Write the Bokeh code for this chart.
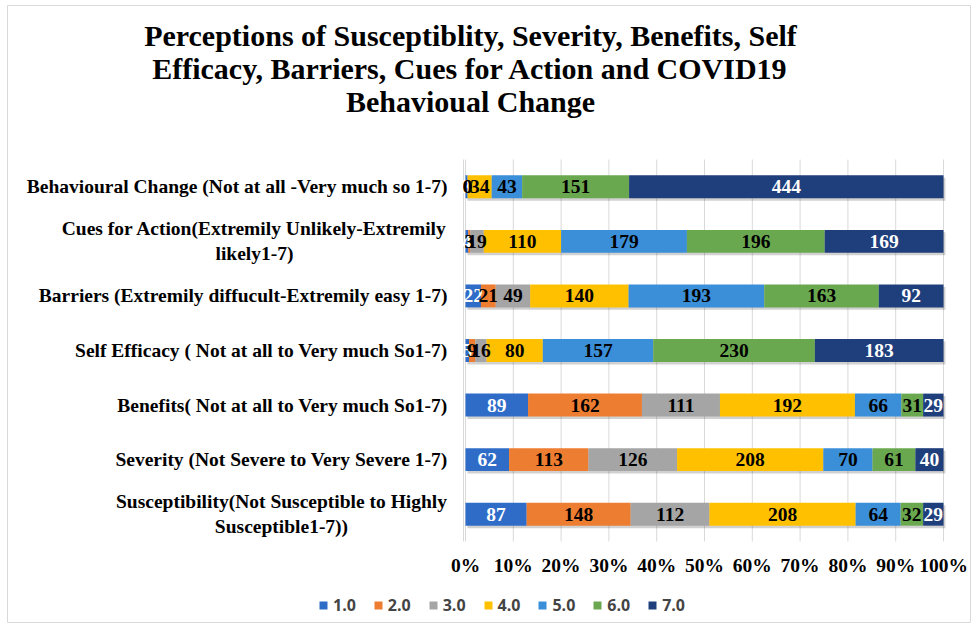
import numpy as np
from bokeh.plotting import figure
from bokeh.models import ColumnDataSource, Range1d, Legend, LegendItem
from bokeh.core.properties import value
from bokeh.embed import file_html
from bokeh.resources import INLINE

# ---------------- data ----------------
categories = [
    "Susceptibility(Not Susceptible to Highly\nSusceptible1-7))",
    "Severity (Not Severe to Very Severe 1-7)",
    "Benefits( Not at all to Very much So1-7)",
    "Self Efficacy ( Not at all to Very much So1-7)",
    "Barriers (Extremily diffucult-Extremily easy 1-7)",
    "Cues for Action(Extremily Unlikely-Extremily\nlikely1-7)",
    "Behavioural Change (Not at all -Very much so 1-7)",
]
series_names = ["1.0", "2.0", "3.0", "4.0", "5.0", "6.0", "7.0"]
s_1 = [87, 62, 89, 5, 22, 4, 3]
s_2 = [148, 113, 162, 9, 21, 3, 0]
s_3 = [112, 126, 111, 16, 49, 19, 0]
s_4 = [208, 208, 192, 80, 140, 110, 34]
s_5 = [64, 70, 66, 157, 193, 179, 43]
s_6 = [32, 61, 31, 230, 163, 196, 151]
s_7 = [29, 40, 29, 183, 92, 169, 444]
x_ticks = [0.0, 0.1, 0.2, 0.3, 0.4, 0.5, 0.6, 0.7, 0.8, 0.9, 1.0]
tick_labels = ["0%", "10%", "20%", "30%", "40%", "50%", "60%", "70%", "80%", "90%", "100%"]
title_lines = ["Perceptions of Susceptiblity, Severity, Benefits, Self",
               "Efficacy, Barriers, Cues for Action and COVID19",
               "Behavioual Change"]

# ---------------- styles / layout ----------------
colors = ["#2E6CC8", "#ED7D31", "#A5A5A5", "#FFC000", "#3B8ED8", "#6AA84F", "#1F3E7C"]
label_colors = ["white", "black", "black", "black", "black", "black", "white"]
SERIF = "Liberation Serif"
GRID = "#d9d9d9"
W, H = 976, 630
FL, FR, FT, FB = 465, 943, 159, 541          # plot area in pixels
ncat = len(categories)
xu = (FR - FL)                                # pixels per 100 %
yu = (FB - FT) / ncat                         # pixels per category


def px_x(px):
    return (px - FL) / xu


def px_y(py):
    return (FB - py) / yu


# ---------------- derived ----------------
counts = np.array([s_1, s_2, s_3, s_4, s_5, s_6, s_7], dtype=float)
totals = counts.sum(axis=0)
fracs = counts / totals
keys = ["k%d" % i for i in range(7)]
ycen = np.arange(ncat) + 0.5
src = ColumnDataSource(dict(y=ycen, **{k: fracs[i] for i, k in enumerate(keys)}))

cum = np.cumsum(fracs, axis=0)
before = cum - fracs
lx, ly, lt, lc = [], [], [], []
for j in range(7):
    for i in range(ncat):
        lx.append(before[j, i] + fracs[j, i] / 2)
        ly.append(ycen[i])
        lt.append(str(int(counts[j, i])))
        lc.append(label_colors[j])
lsrc = ColumnDataSource(dict(x=lx, y=ly, t=lt, c=lc))

# ---------------- figure ----------------
p = figure(width=W, height=H, x_range=Range1d(px_x(0), px_x(W)), y_range=Range1d(px_y(H), px_y(0)),
           output_backend="svg", toolbar_location=None, min_border=0,
           x_axis_type=None, y_axis_type=None)
p.outline_line_color = None
p.background_fill_color = "white"

# outer chart border
p.quad(left=[px_x(7)], right=[px_x(970)], top=[px_y(5)], bottom=[px_y(622)],
       fill_color=None, line_color=GRID, line_width=1)

# grid lines and value axis line
p.segment(x0=x_ticks, x1=x_ticks, y0=[0] * len(x_ticks), y1=[ncat] * len(x_ticks),
          line_color=GRID, line_width=1)
p.segment(x0=[px_x(FL - 2)], x1=[px_x(FL - 2)], y0=[0], y1=[ncat], line_color=GRID, line_width=1)

# bar shadow + stacked bars
p.hbar(y=ycen - 0.045, left=0.004, right=1.004, height=0.42,
       fill_color="black", fill_alpha=0.18, line_color=None)
rs = p.hbar_stack(keys, y="y", height=0.42, color=colors, source=src, line_color=None)

# data labels
p.text(x="x", y="y", text="t", text_color="c", source=lsrc,
       text_font=value(SERIF), text_font_style="bold", text_font_size="19.5px",
       text_align="center", text_baseline="middle")

# category labels
single = [i for i, c in enumerate(categories) if "\n" not in c]
multi = [i for i, c in enumerate(categories) if "\n" in c]
multi_centers = {0: 281, 5: 254}
p.text(x=[px_x(447)] * len(single), y=[ycen[i] for i in single],
       text=[categories[i] for i in single], text_color="black",
       text_font=value(SERIF), text_font_style="bold", text_font_size="19.5px",
       text_align="right", text_baseline="middle")
p.text(x=[px_x(multi_centers[i]) for i in multi], y=[ycen[i] for i in multi],
       text=[categories[i] for i in multi], text_color="black",
       text_font=value(SERIF), text_font_style="bold", text_font_size="19.5px",
       text_align="center", text_baseline="middle", text_line_height=1.18)

# value axis tick labels
p.text(x=x_ticks, y=[px_y(565)] * len(x_ticks), text=tick_labels, text_color="black",
       text_font=value(SERIF), text_font_style="bold", text_font_size="19.5px",
       text_align="center", text_baseline="middle")

# title
p.text(x=[px_x(470)] * 3, y=[px_y(35), px_y(68), px_y(101)], text=title_lines,
       text_color="black", text_font=value(SERIF), text_font_style="bold",
       text_font_size="30px", text_align="center", text_baseline="middle")

# legend
legend = Legend(items=[LegendItem(label=n, renderers=[r]) for n, r in zip(series_names, rs)],
                orientation="horizontal", location=(318, H - 616),
                glyph_width=10, glyph_height=10, label_standoff=5, spacing=17,
                label_text_font="Open Sans", label_text_font_style="bold",
                label_text_font_size="16px", padding=0, margin=0,
                border_line_color=None, background_fill_alpha=0)
p.add_layout(legend, "center")

open("out.html", "w").write(file_html(p, INLINE))
